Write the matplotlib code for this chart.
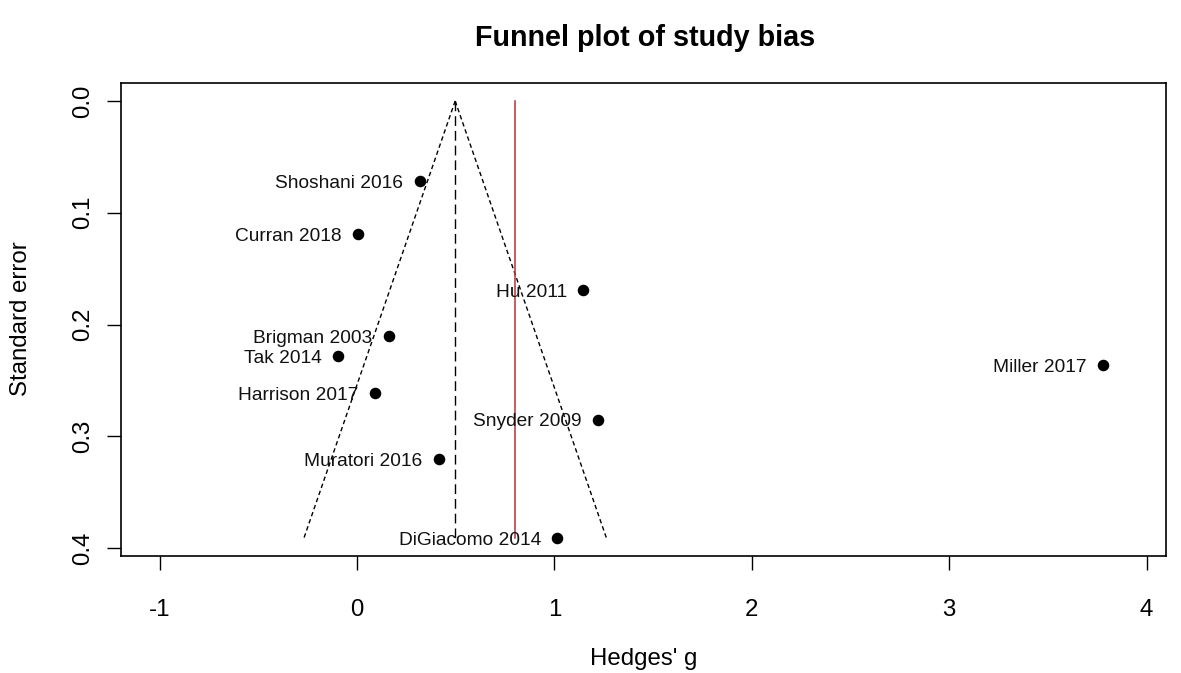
import matplotlib
matplotlib.use("Agg")
import matplotlib.pyplot as plt
import numpy as np

# ---- data ----
studies = ["Shoshani 2016", "Curran 2018", "Hu 2011", "Brigman 2003", "Tak 2014",
           "Harrison 2017", "Muratori 2016", "Snyder 2009", "DiGiacomo 2014", "Miller 2017"]
hedges_g = [0.319, 0.007, 1.146, 0.160, -0.095, 0.091, 0.417, 1.223, 1.015, 3.781]
std_err = [0.072, 0.119, 0.169, 0.210, 0.228, 0.261, 0.320, 0.285, 0.391, 0.236]
pooled_est = 0.497      # funnel centre (dashed)
red_line = 0.80          # red reference line
x_ticks = [-1, 0, 1, 2, 3, 4]
y_ticks = [0.0, 0.1, 0.2, 0.3, 0.4]
y_ticklabels = ["0.0", "0.1", "0.2", "0.3", "0.4"]

plt.rcParams['font.family'] = ['Liberation Sans', 'DejaVu Sans']

W, H = 1181, 673
fig = plt.figure(figsize=(W / 100, H / 100), dpi=100)
ax = fig.add_axes([121 / W, 1 - 556 / H, (1166 - 121) / W, (556 - 83) / H])

se_max = max(std_err)
se_line = np.array([0.0, se_max])
# funnel (95% pseudo-confidence region)
ax.plot(pooled_est - 1.96 * se_line, se_line, color='black', lw=1.0,
        dashes=(3.2, 2.2))
ax.plot(pooled_est + 1.96 * se_line, se_line, color='black', lw=1.0,
        dashes=(3.2, 2.2))
ax.plot([pooled_est, pooled_est], [0, se_max], color='black', lw=1.0,
        dashes=(7, 3.6))
ax.plot([red_line, red_line], [0, se_max], color='#b83333', lw=1.1)

ax.plot(hedges_g, std_err, 'o', color='black', markersize=7.3, zorder=5)
for name, g, s in zip(studies, hedges_g, std_err):
    ax.annotate(name, (g, s), xytext=(-12, -4.9), textcoords='offset points',
                ha='right', va='baseline', fontsize=13.8, color='#111111')

ax.set_xlim(-1.196, 4.098)
ax.set_ylim(0.407, -0.0161)
ax.set_xticks(x_ticks)
ax.set_xticklabels([str(t) for t in x_ticks])
ax.set_yticks(y_ticks)
ax.set_yticklabels(y_ticklabels, rotation=90, va='center')
ax.tick_params(axis='both', direction='out', length=10, width=1.0,
               labelsize=17.3, colors='black')
ax.tick_params(axis='x', pad=21)
ax.tick_params(axis='y', pad=9)
for sp in ax.spines.values():
    sp.set_linewidth(1.2)

fig.text(645 / W, 1 - 46 / H, "Funnel plot of study bias", ha='center',
         va='baseline', fontsize=20.7, fontweight='bold')
fig.text(643.5 / W, 1 - 659 / H, "Hedges' g", ha='center', va='center',
         fontsize=17.3)
fig.text(21 / W, 1 - 319 / H, "Standard error", ha='center', va='center',
         rotation=90, fontsize=17.3)

fig.savefig("out.png", dpi=100)
